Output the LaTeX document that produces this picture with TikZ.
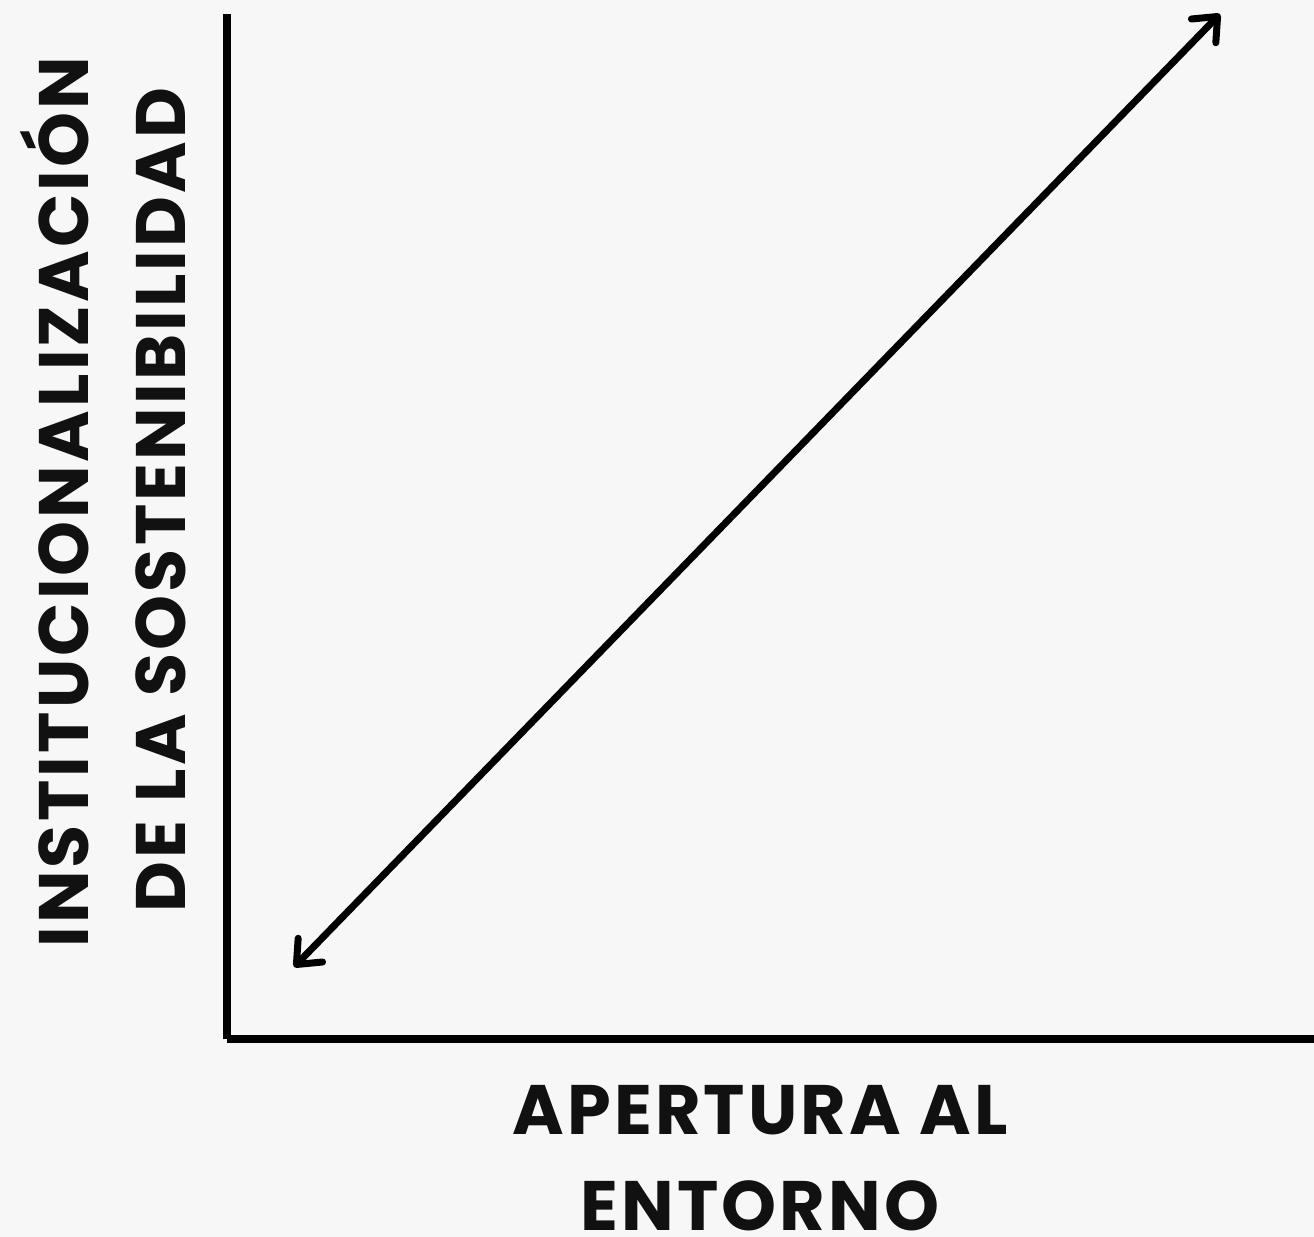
\documentclass[tikz,border=0pt]{standalone}
\usepackage{fontspec}
\setmainfont{Poppins}[LetterSpace=4.5]
\usetikzlibrary{arrows.meta}
\definecolor{BG}{HTML}{F7F7F7}
\definecolor{TXT}{HTML}{111111}
\tikzstyle{axis} = [line width=4pt, draw=black]
\tikzstyle{arrow} = [line width=3.5pt, draw=black, line cap=round, {Straight Barb[length=10pt, width=17pt, round]}-{Straight Barb[length=10pt, width=17pt, round]}]
\tikzstyle{label} = [font=\bfseries\fontsize{35}{48}\selectfont, text=TXT, align=center, inner sep=0pt]

\begin{document}
\begin{tikzpicture}[x=0.5pt, y=-0.5pt]

\fill [BG] (0,0) rectangle (1314,1237);
\useasboundingbox (0,0) rectangle (1314,1237);

% axes
\coordinate (origin) at (227,1039);
\coordinate (ytop) at (227,14);
\coordinate (xend) at (1314,1039);

\draw [axis] (origin) -- (ytop);
\draw [axis] (origin) -- (xend);

% diagonal
\coordinate (low) at (294,967);
\coordinate (high) at (1220,14);
\draw [arrow] (low) -- (high);

% labels
\node (ylab1) [label, rotate=90, anchor=base] at (89,502) {INSTITUCIONALIZACIÓN};
\node (ylab2) [label, rotate=90, anchor=base] at (185,500) {DE LA SOSTENIBILIDAD};
\node (xlab) [label, anchor=base] at (760,1230) {APERTURA AL\\ENTORNO};

\end{tikzpicture}
\end{document}
